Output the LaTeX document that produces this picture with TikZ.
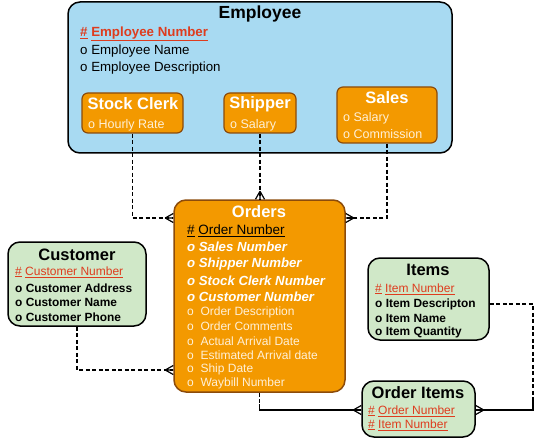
\documentclass[tikz,border=0pt]{standalone}
\usepackage{fontspec}
\setmainfont{Liberation Sans}
\usepackage{tikz}
\usetikzlibrary{positioning}
\definecolor{erblue}{RGB}{168, 218, 242}
\definecolor{erorange}{RGB}{243, 153, 0}
\definecolor{erbrown}{RGB}{140, 75, 10}
\definecolor{ergreen}{RGB}{208, 232, 200}
\definecolor{erred}{RGB}{222, 60, 30}
\definecolor{ercream}{RGB}{255, 240, 215}

\begin{document}
\begin{tikzpicture}[
    x=1pt, y=-1pt,
    every node/.style={font=\fontsize{12}{14}\selectfont},
    entity/.style={rectangle, rounded corners=12pt, draw=black, line width=1.5pt},
    subtype/.style={rectangle, rounded corners=6pt, draw=erbrown, line width=1.2pt, fill=erorange},
    title/.style={font=\fontsize{16.5}{19}\selectfont\bfseries},
    attr/.style={anchor=west, inner sep=0pt},
    rel/.style={dash pattern=on 4pt off 2.5pt, line width=1.1pt},
    crow/.pic={\draw[line width=1.2pt] (-8,0) -- (0,-4.5) (-8,0) -- (0,0) (-8,0) -- (0,4.5);}
]
\useasboundingbox (0,0) rectangle (538,441);

% Employee with its subtypes
\node[entity, fill=erblue, minimum width=384, minimum height=151] (employee) at (260,77.5) {};
\node[title, font=\fontsize{17.5}{20}\selectfont\bfseries] (emptitle) at (260,14) {Employee};
\node[attr, erred, font=\fontsize{13.3}{15}\selectfont\bfseries] (empkey) at (80,34) {\underline{\#} \underline{Employee Number}};
\node[attr, font=\fontsize{13.3}{15}\selectfont] (empname) at (80,51) {o Employee Name};
\node[attr, font=\fontsize{13.3}{15}\selectfont] (empdesc) at (80,68) {o Employee Description};

\node[subtype, minimum width=101, minimum height=40] (clerk) at (132.5,113) {};
\node[title, white] (clerktitle) at (133,104) {Stock Clerk};
\node[attr, ercream, font=\fontsize{12.5}{14}\selectfont] (clerkrate) at (88,125) {o Hourly Rate};

\node[subtype, minimum width=72, minimum height=40] (shipper) at (260,113) {};
\node[title, white] (shiptitle) at (260,104) {Shipper};
\node[attr, ercream, font=\fontsize{12.5}{14}\selectfont] (shipsal) at (230,125) {o Salary};

\node[subtype, minimum width=100, minimum height=56] (sales) at (387,115) {};
\node[title, white] (salestitle) at (387,98) {Sales};
\node[attr, ercream, font=\fontsize{12.5}{14}\selectfont] (salessal) at (343,118) {o Salary};
\node[attr, ercream, font=\fontsize{12.5}{14}\selectfont] (salescom) at (343,134) {o Commission};

% Orders
\node[entity, draw=erbrown, fill=erorange, minimum width=171, minimum height=192] (orders) at (259.5,296) {};
\node[title, white] (ordtitle) at (259,212) {Orders};
\node[attr, font=\fontsize{13.5}{15}\selectfont] (ordkey) at (187,231) {\underline{\#} \underline{Order Number}};
\foreach \name/\ypos in {Sales Number/247, Shipper Number/264, Stock Clerk Number/281, Customer Number/297} {
    \node[attr, white, font=\fontsize{13.2}{15}\selectfont\bfseries\itshape] at (187,\ypos) {o \name};
}
\foreach \name/\ypos in {Order Description/312, Order Comments/326, Actual Arrival Date/341, Estimated Arrival date/355, Ship Date/369, Waybill Number/383} {
    \node[attr, ercream] at (187,\ypos) {o\ \ \name};
}

% Customer
\node[entity, fill=ergreen, minimum width=138, minimum height=84] (customer) at (77,284) {};
\node[title] (custtitle) at (77,255) {Customer};
\node[attr, erred] (custkey) at (15,272) {\underline{\#} \underline{Customer Number}};
\node[attr, font=\fontsize{11.9}{14}\selectfont\bfseries] (custaddr) at (15,288) {o Customer Address};
\node[attr, font=\fontsize{11.9}{14}\selectfont\bfseries] (custname) at (15,302) {o Customer Name};
\node[attr, font=\fontsize{11.9}{14}\selectfont\bfseries] (custphone) at (15,317) {o Customer Phone};

% Items
\node[entity, fill=ergreen, minimum width=121, minimum height=82] (items) at (428.5,299) {};
\node[title] (itemtitle) at (428,270) {Items};
\node[attr, erred] (itemkey) at (375,289) {\underline{\#} \underline{Item Number}};
\node[attr, font=\fontsize{11.9}{14}\selectfont\bfseries] (itemdesc) at (375,304) {o Item Descripton};
\node[attr, font=\fontsize{11.9}{14}\selectfont\bfseries] (itemname) at (375,318) {o Item Name};
\node[attr, font=\fontsize{11.9}{14}\selectfont\bfseries] (itemqty) at (375,332) {o Item Quantity};

% Order Items
\node[entity, fill=ergreen, minimum width=113, minimum height=56] (orderitems) at (418.5,409) {};
\node[title] (oititle) at (418,393) {Order Items};
\node[attr, erred] (oiorder) at (368,411) {\underline{\#} \underline{Order Number}};
\node[attr, erred] (oiitem) at (368,425) {\underline{\#} \underline{Item Number}};

% relationships
\draw[rel] (clerk.south) |- (orders.west |- 0,218);
\pic at (orders.west |- 0,218) {crow};
\draw[rel] (shipper.south) -- (shipper.south |- orders.north);
\pic[rotate=-90] at (shipper.south |- orders.north) {crow};
\draw[rel] (sales.south) |- (orders.east |- 0,218);
\pic[rotate=180] at (orders.east |- 0,218) {crow};
\draw[rel] (customer.south) |- (orders.west |- 0,370);
\pic at (orders.west |- 0,370) {crow};

\coordinate (ordbend) at (orders.south |- 0,404);
\draw[rel] (orders.south) -- (ordbend);
\draw[line width=1.2pt] (ordbend) |- (orderitems.west |- 0,410);
\pic at (orderitems.west |- 0,410) {crow};

\coordinate (itembend) at (533,398);
\draw[rel] (items.east |- 0,304) -| (itembend);
\draw[line width=1.2pt] (itembend) |- (orderitems.east |- 0,410);
\pic[rotate=180] at (orderitems.east |- 0,410) {crow};

\end{tikzpicture}
\end{document}
